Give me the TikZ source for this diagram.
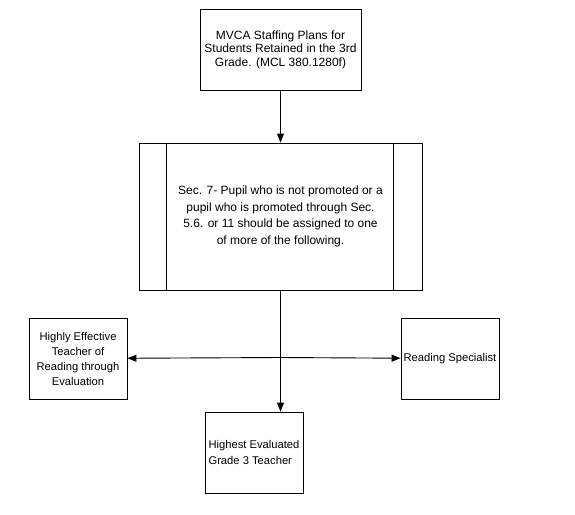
\documentclass[tikz,border=0pt]{standalone}
\usepackage{fontspec}
\setmainfont{Liberation Sans}
\usetikzlibrary{arrows.meta}
\begin{document}
\begin{tikzpicture}[x=1pt,y=-1pt,>={Triangle[length=9pt,width=7pt]}]
        \tikzstyle{plan}=[rectangle,draw=black,line width=0.9pt,align=center,font=\fontsize{12}{13.5}\selectfont]
        \tikzstyle{staff}=[rectangle,draw=black,line width=0.9pt,minimum width=98,minimum height=81,inner xsep=2pt,font=\fontsize{11.2}{15}\selectfont]
        \tikzstyle{edge}=[draw=black,line width=0.9pt,->]
        \tikzstyle{bar}=[draw=black,line width=0.9pt]

        \useasboundingbox (0,0) rectangle (575,514);

        \node [plan,minimum width=161,minimum height=81] (mvca) at (280.5,49.5) {MVCA Staffing Plans for\\Students Retained in the 3rd\\Grade. (MCL 380.1280f)};
        \node [plan,minimum width=283,minimum height=147,font=\fontsize{12}{16.5}\selectfont] (sec7) at (280.5,216.5) {Sec. 7- Pupil who is not promoted or a\\pupil who is promoted through Sec.\\5.6. or 11 should be assigned to one\\of more of the following.};
        \draw [bar] ([xshift=28]sec7.north west) -- ([xshift=28]sec7.south west);
        \draw [bar] ([xshift=-29]sec7.north east) -- ([xshift=-29]sec7.south east);

        \node [staff,align=center] (effective) at (78,358.5) {Highly Effective\\Teacher of\\Reading through\\Evaluation};
        \node [staff,align=center] (specialist) at (450,358.5) {Reading Specialist};
        \node [staff,align=left,font=\fontsize{11.2}{16}\selectfont] (grade3) at (254,452.5) {Highest Evaluated\\Grade 3 Teacher};
        \coordinate (split) at (280.5,357.5);

        \path (mvca) edge [edge] (sec7);
        \draw [bar] (sec7.south) -- (split);
        \path (split) edge [edge] (effective);
        \path (split) edge [edge] (specialist);
        \path (split) edge [edge] (split |- grade3.north);
\end{tikzpicture}
\end{document}
